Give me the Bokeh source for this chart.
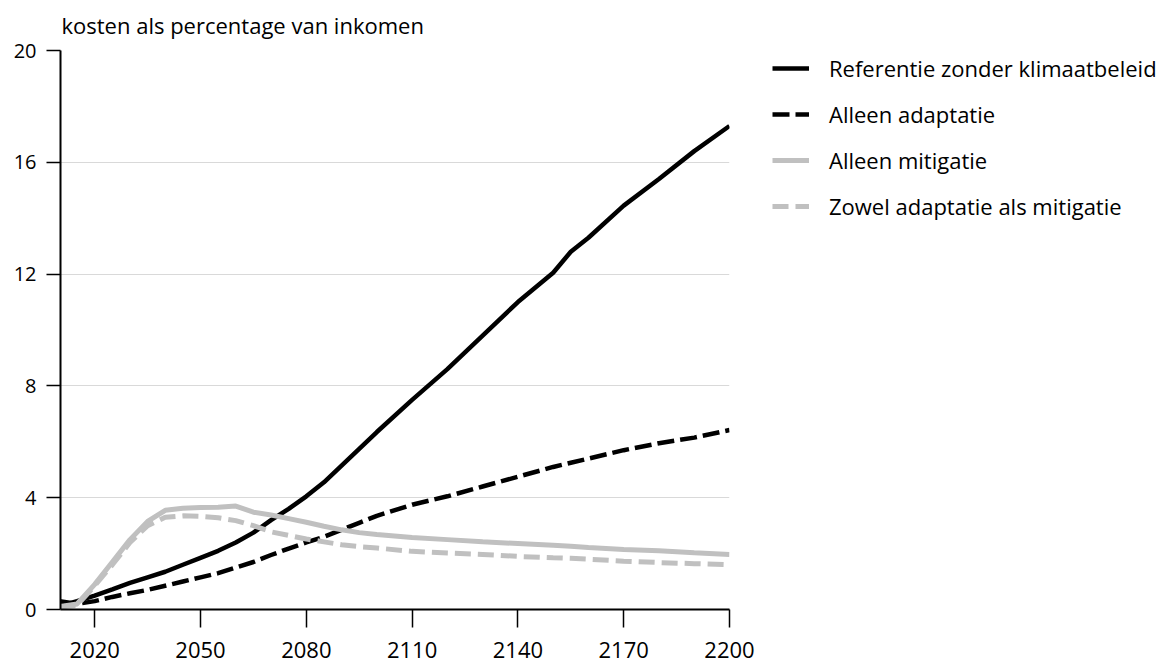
from bokeh.plotting import figure
from bokeh.models import Range1d, FixedTicker, Legend, LegendItem
from bokeh.embed import file_html
from bokeh.resources import INLINE

years = [2010, 2015, 2020, 2025, 2030, 2035, 2040, 2045, 2050, 2055, 2060, 2065, 2070, 2075,
         2080, 2085, 2090, 2095, 2100, 2110, 2120, 2130, 2140, 2150, 2155, 2160, 2170, 2180, 2190, 2200]

referentie = [0.12, 0.3, 0.5, 0.72, 0.95, 1.15, 1.35, 1.6, 1.85, 2.1, 2.4, 2.75, 3.2, 3.6,
              4.05, 4.55, 5.15, 5.75, 6.35, 7.5, 8.6, 9.8, 11.0, 12.05, 12.8, 13.3, 14.45, 15.4, 16.4, 17.3]
adaptatie = [0.3, 0.2, 0.3, 0.45, 0.58, 0.7, 0.85, 1.0, 1.15, 1.3, 1.5, 1.7, 1.95, 2.18,
             2.4, 2.6, 2.85, 3.1, 3.35, 3.75, 4.05, 4.4, 4.75, 5.1, 5.25, 5.4, 5.7, 5.95, 6.15, 6.42]
mitigatie = [0.1, 0.2, 0.9, 1.7, 2.5, 3.15, 3.55, 3.62, 3.65, 3.66, 3.7, 3.48, 3.38, 3.25,
             3.12, 2.98, 2.85, 2.75, 2.68, 2.58, 2.5, 2.42, 2.36, 2.3, 2.26, 2.22, 2.15, 2.1, 2.03, 1.97]
beide = [0.1, 0.15, 0.85, 1.6, 2.4, 3.0, 3.3, 3.35, 3.33, 3.28, 3.18, 3.0, 2.78, 2.65,
         2.52, 2.42, 2.32, 2.25, 2.2, 2.08, 2.02, 1.97, 1.9, 1.85, 1.83, 1.8, 1.73, 1.68, 1.64, 1.6]

labels = ["Referentie zonder klimaatbeleid", "Alleen adaptatie", "Alleen mitigatie",
          "Zowel adaptatie als mitigatie"]
x_ticks = [2020, 2050, 2080, 2110, 2140, 2170, 2200]
y_ticks = [0, 4, 8, 12, 16, 20]
title_text = "kosten als percentage van inkomen"

FONT = "Open Sans"
BLACK = "#000000"
GREY = "#c0c0c0"

p = figure(frame_width=669, frame_height=559, output_backend="svg", toolbar_location=None,
           x_range=Range1d(2010.3, 2200), y_range=Range1d(0, 20),
           min_border_left=60, min_border_top=50, min_border_right=420, min_border_bottom=56)
p.outline_line_color = None
p.background_fill_color = "white"
p.border_fill_color = "white"

p.title.text = title_text
p.title.align = "left"
p.title.vertical_align = "top"
p.title.text_font = FONT
p.title.text_font_size = "22px"
p.title.text_font_style = "normal"
p.title.text_color = "#000000"
p.title.offset = 1
p.title.standoff = 17

p.xgrid.visible = False
p.ygrid.grid_line_color = "#d9d9d9"
p.ygrid.grid_line_width = 1

p.xaxis.ticker = FixedTicker(ticks=x_ticks)
p.yaxis.ticker = FixedTicker(ticks=y_ticks)
for ax in (p.xaxis[0], p.yaxis[0]):
    ax.axis_line_color = "black"
    ax.axis_line_width = 2
    ax.major_tick_line_color = "black"
    ax.major_tick_line_width = 1.5
    ax.major_tick_in = 0
    ax.minor_tick_line_color = None
    ax.major_label_text_font = FONT
    ax.major_label_text_color = "black"
p.xaxis.major_label_text_font_size = "22px"
p.yaxis.major_label_text_font_size = "20px"
p.xaxis.major_tick_out = 18
p.xaxis.major_label_standoff = 14
p.yaxis.major_tick_out = 14
p.yaxis.major_label_standoff = 10

r1 = p.line(years, referentie, line_color=BLACK, line_width=4.5)
r2 = p.line(years, adaptatie, line_color=BLACK, line_width=4.5, line_dash="17 6")
r3 = p.line(years, mitigatie, line_color=GREY, line_width=5)
r4 = p.line(years, beide, line_color=GREY, line_width=5, line_dash="16 7")

legend = Legend(items=[LegendItem(label=l, renderers=[r]) for l, r in zip(labels, [r1, r2, r3, r4])],
                location=(43, 388), margin=0, padding=0, spacing=16,
                glyph_width=37, glyph_height=30, label_height=30, label_standoff=20,
                label_text_font=FONT, label_text_font_size="22px", label_text_color="black",
                border_line_color=None, background_fill_alpha=0)
p.add_layout(legend, "right")

open("out.html", "w").write(file_html(p, INLINE))
